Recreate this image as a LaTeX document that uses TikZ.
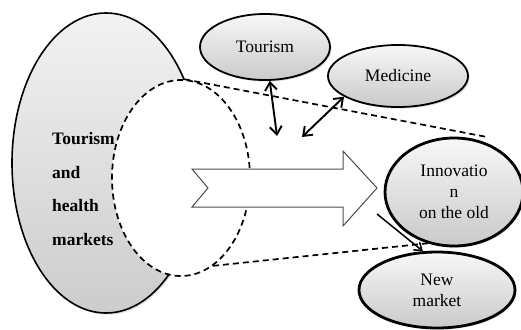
\documentclass[tikz,border=0pt]{standalone}
\usepackage{fontspec}
\setmainfont{Liberation Serif}
\usetikzlibrary{shapes.geometric,shadows,arrows.meta}
\begin{document}
\begin{tikzpicture}[x=1pt,y=-1pt,
  ell/.style={ellipse, draw=black, line width=1.8pt, top color=gray!6, bottom color=gray!42,
    drop shadow={opacity=0.35,shadow xshift=1.5pt,shadow yshift=-1.5pt},
    inner sep=0pt, font=\fontsize{17.5}{21}\selectfont, align=center},
  bigell/.style={ellipse, draw=black, line width=1.6pt, top color=gray!10, bottom color=gray!40,
    drop shadow={opacity=0.3,shadow xshift=1.5pt,shadow yshift=-1.5pt}, inner sep=0pt},
  dsh/.style={dash pattern=on 6pt off 4pt, line width=1.7pt},
  dbl/.style={{Straight Barb[length=8pt,width=12pt]}-{Straight Barb[length=8pt,width=12pt]}, line width=1.9pt},
]
\useasboundingbox (0,0) rectangle (521,329);

% big market ellipse and the dashed hole
\node[bigell, minimum width=188pt, minimum height=300pt] (mkt) at (106,163) {};
\node[ellipse, draw=black, dsh, fill=white, minimum width=138pt, minimum height=196pt, inner sep=0pt] (hole) at (181,178) {};

% dashed funnel lines
\coordinate (te) at (487,137);
\coordinate (be) at (440,242);
\draw[dsh] (hole.88) -- (te);
\draw[dsh] (hole.-70) -- (be);

% big hollow arrow
\draw[fill=white, draw=gray!60!black, line width=1pt]
  (192,169) -- (343,169) -- (343,151) -- (377,188) -- (343,226) -- (343,207) -- (192,207) -- (208,188) -- cycle;

% text of market ellipse
\node[font=\bfseries\fontsize{17.5}{33.5}\selectfont, align=left, anchor=west, inner sep=0pt] (mkttext) at (52,189) {Tourism\\and\\health\\markets};

% small ellipses
\node[ell, minimum width=130pt, minimum height=66pt] (tour) at (265,47) {Tourism};
\node[ell, minimum width=140pt, minimum height=62pt] (med) at (398,76) {Medicine};
\node[ell, line width=2.8pt, minimum width=138pt, minimum height=108pt] (inno) at (454,192) {Innovatio\\n\\on the old};
\node[ell, line width=2.8pt, minimum width=156pt, minimum height=76pt] (newm) at (437,290) {New\\market};

% double arrows
\coordinate (ta) at (277,136);
\coordinate (ma) at (302,137);
\draw[dbl] (tour.-82) -- (ta);
\draw[dbl] (med.201) -- (ma);

% arrow towards new market
\coordinate (ia) at (377,214);
\draw[-{Straight Barb[length=7pt,width=10pt]}, line width=1.5pt] (ia) -- (newm.110);
\end{tikzpicture}
\end{document}
